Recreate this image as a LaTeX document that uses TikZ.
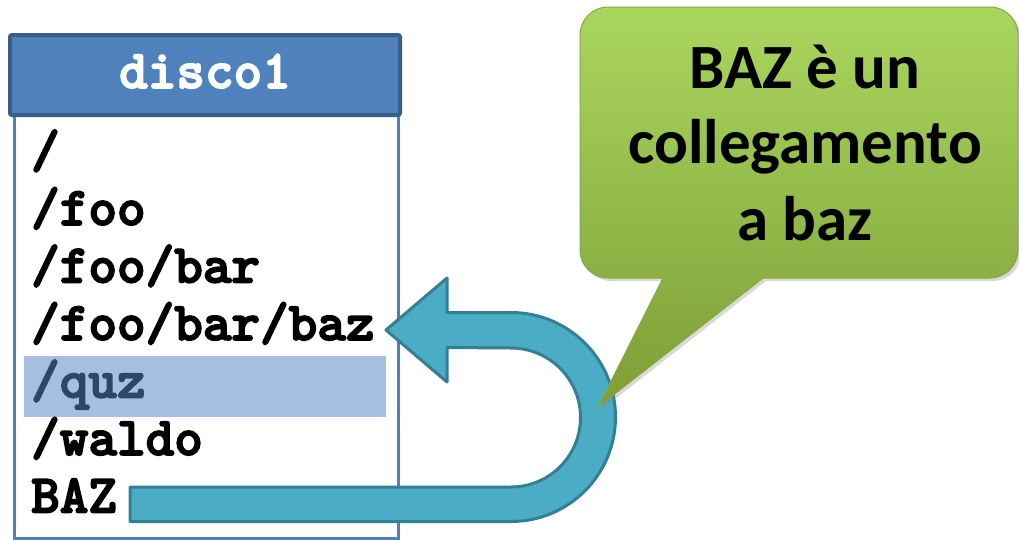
\documentclass[tikz,border=0pt]{standalone}
\usepackage{fontspec}
\newfontfamily\callfam{Carlito}
\newfontfamily\monofam{lmmonolt10-bold.otf}[FakeBold=3]
\usetikzlibrary{shadows}
\definecolor{hdrfill}{HTML}{4F81BD}
\definecolor{hdrline}{HTML}{385D8A}
\definecolor{boxline}{HTML}{4F81BD}
\definecolor{hilite}{HTML}{A7BFDE}
\definecolor{quztext}{HTML}{2D4766}
\definecolor{arrfill}{HTML}{4BACC6}
\definecolor{arrline}{HTML}{357F93}
\definecolor{gtop}{HTML}{AAD65E}
\definecolor{gbot}{HTML}{7D9E36}
\definecolor{gline}{HTML}{86A843}
\tikzset{
  item/.style={anchor=base west, inner sep=0pt, font=\monofam\bfseries\fontsize{54.5}{58}\selectfont},
  hdrtext/.style={anchor=base, inner sep=0pt, text=white, font=\monofam\bfseries\fontsize{54.5}{58}\selectfont},
  calltext/.style={anchor=base, inner sep=0pt, font=\callfam\bfseries\fontsize{63}{66}\selectfont},
}
\begin{document}
\begin{tikzpicture}[x=1pt,y=-1pt]
\useasboundingbox (0,0) rectangle (1019,539);
% list box
\draw[boxline, line width=3pt] (14,115) rectangle (398,538);
\fill[hilite] (24,356) rectangle (386,417);
% header
\draw[hdrline, fill=hdrfill, line width=4pt, rounded corners=2pt] (10,35) rectangle (400,115);
\node[hdrtext] (hdr) at (205,88) {disco1};
% items
\node[item] (l1) at (31,167.5) {/};
\node[item] (l2) at (31,225) {/foo};
\node[item] (l3) at (31,282.5) {/foo/bar};
\node[item] (l4) at (31,340) {/foo/bar/baz};
\node[item, text=quztext] (l5) at (31,397.5) {/quz};
\node[item] (l6) at (31,455) {/waldo};
\node[item] (l7) at (31,512.5) {BAZ};
% U-turn arrow
\draw[arrline, fill=arrfill, line width=3pt, line join=round]
  (130,487) -- (511,487) arc[start angle=90, end angle=-90, radius=69.5]
  -- (447,347.5) -- (447,382) -- (386,330) -- (447,278) -- (447,312.5)
  -- (511,312.5) arc[start angle=-90, end angle=90, radius=104.5]
  -- (130,521.5) -- cycle;
% callout
\draw[gline, line width=1pt, top color=gtop, bottom color=gbot,
      drop shadow={shadow xshift=3pt, shadow yshift=-3pt, opacity=0.3}]
  (663,278) -- (598,407) -- (763,278) -- (990,278)
  arc[start angle=90, end angle=0, radius=28] -- (1018,35)
  arc[start angle=0, end angle=-90, radius=28] -- (608,7)
  arc[start angle=-90, end angle=-180, radius=28] -- (580,250)
  arc[start angle=180, end angle=90, radius=28] -- cycle;
\node[calltext] (c1) at (805,88) {BAZ è un};
\node[calltext] (c2) at (805,163) {collegamento};
\node[calltext] (c3) at (805,240) {a baz};
\end{tikzpicture}
\end{document}
